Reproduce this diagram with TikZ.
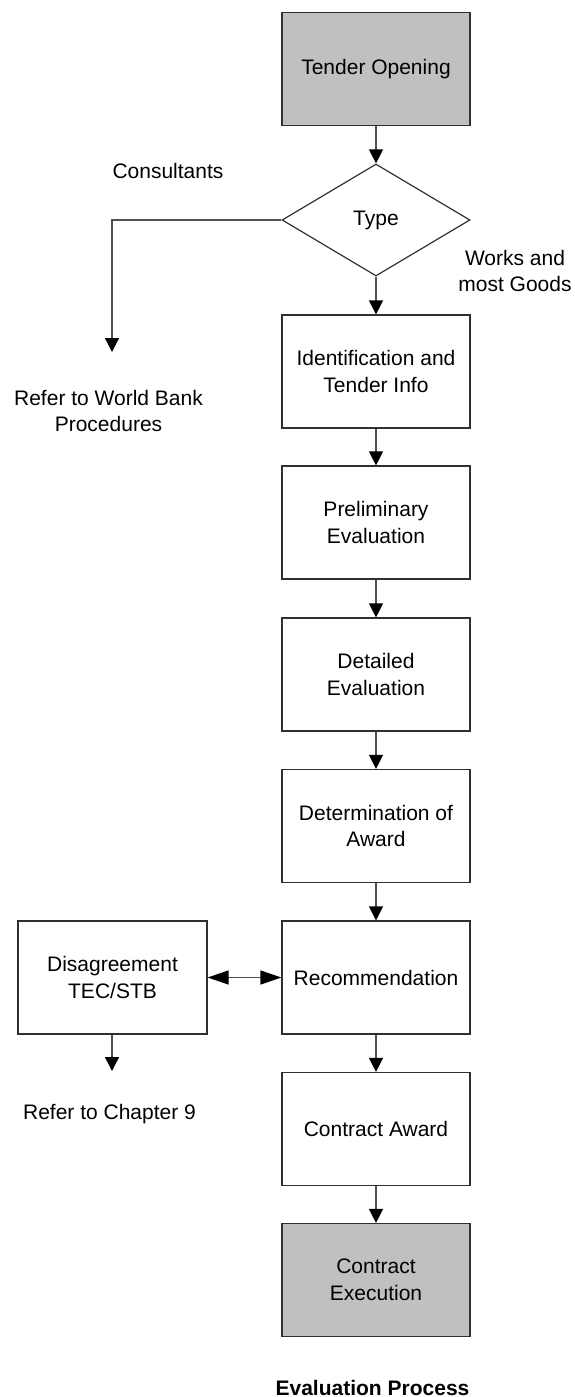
\documentclass[tikz,border=0pt]{standalone}
\usepackage{fontspec}
\setmainfont{Liberation Sans}
\usetikzlibrary{shapes.geometric,arrows.meta}
\definecolor{boxgray}{HTML}{C0C0C0}
\definecolor{edgecol}{HTML}{303030}
\definecolor{linkcol}{HTML}{505050}
\begin{document}
\begin{tikzpicture}[x=1pt,y=-1pt,
  font=\fontsize{21}{26.5}\selectfont,
  stepbox/.style={draw=edgecol,line width=1.2pt,rectangle,minimum width=188pt,minimum height=113pt,inner sep=0pt,align=center},
  termbox/.style={stepbox,fill=boxgray},
  decision/.style={draw=edgecol,line width=1.2pt,diamond,minimum width=188pt,minimum height=112pt,inner sep=0pt},
  label/.style={inner sep=0pt,align=center},
  link/.style={draw=linkcol,line width=1.3pt,-{Triangle[width=14pt,length=14pt,color=black,fill=black]}},
  biglink/.style={draw=linkcol,line width=1.3pt,{Triangle[width=14pt,length=21pt,color=black,fill=black]}-{Triangle[width=14pt,length=21pt,color=black,fill=black]}}
]
\useasboundingbox (0,0) rectangle (574,1397);

% main column
\node[termbox] (open) at (376,69) {Tender Opening};
\node[decision] (type) at (376,220) {Type};
\node[stepbox] (ident) at (376,371.5) {Identification and\\Tender Info};
\node[stepbox] (prelim) at (376,522.5) {Preliminary\\Evaluation};
\node[stepbox] (detail) at (376,674.5) {Detailed\\Evaluation};
\node[stepbox] (determ) at (376,826) {Determination of\\Award};
\node[stepbox] (recom) at (376,977.5) {Recommendation};
\node[stepbox] (award) at (376,1129) {Contract Award};
\node[termbox] (exec) at (376,1280) {Contract\\Execution};

% side box
\node[stepbox,minimum width=189pt] (disagree) at (112.5,977.5) {Disagreement\\TEC/STB};

% labels
\node[label,anchor=base] (cons) at (168,178) {Consultants};
\node[label,anchor=north] (works) at (515,250) {Works and\\most Goods};
\node[label,anchor=north] (wb) at (108.5,390) {Refer to World Bank\\Procedures};
\node[label,anchor=base] (ch9) at (109.5,1119) {Refer to Chapter 9};
\node[label,anchor=base,font=\fontsize{21}{26.5}\selectfont\bfseries] (title) at (372.5,1395) {Evaluation Process};

% connector ends
\coordinate (wbend) at (112,352);
\coordinate (ch9end) at (112,1071);

% connectors
\draw[link] (open) -- (type);
\draw[link] (type) -- (ident);
\draw[link] (ident) -- (prelim);
\draw[link] (prelim) -- (detail);
\draw[link] (detail) -- (determ);
\draw[link] (determ) -- (recom);
\draw[link] (recom) -- (award);
\draw[link] (award) -- (exec);
\draw[link] (type.west) -| (wbend);
\draw[biglink] (disagree.east) -- (recom.west);
\draw[link] (disagree.south -| ch9end) -- (ch9end);
\end{tikzpicture}
\end{document}
